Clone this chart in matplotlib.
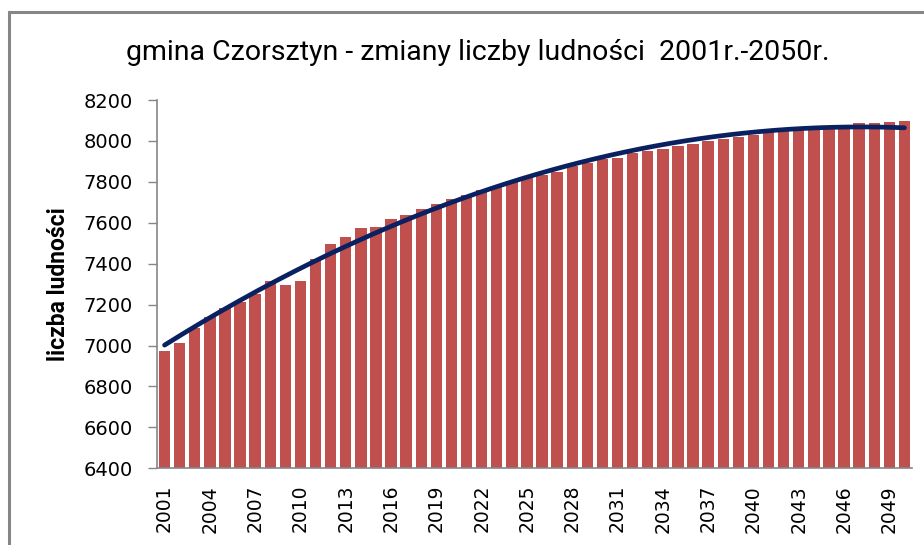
import numpy as np
import matplotlib
matplotlib.use("Agg")
import matplotlib.pyplot as plt
from matplotlib.patches import Rectangle

# Data
years = list(range(2001, 2051))
population = [
    6973, 7012, 7087, 7141, 7184, 7214, 7254, 7315, 7296, 7315,
    7421, 7496, 7530, 7574, 7579, 7618, 7638, 7667, 7692, 7716,
    7736, 7760, 7776, 7799, 7822, 7833, 7850, 7877, 7894, 7912,
    7917, 7939, 7951, 7961, 7977, 7987, 8001, 8011, 8021, 8031,
    8042, 8048, 8053, 8058, 8063, 8070, 8088, 8088, 8092, 8097,
]
tick_years = years[::3]

title = "gmina Czorsztyn - zmiany liczby ludności  2001r.-2050r."
ylabel = "liczba ludności"

BAR_COLOR = "#C0504D"
LINE_COLOR = "#0A2161"
GRAY = "#868686"
TITLE_FONT = ["Roboto", "DejaVu Sans"]

fig = plt.figure(figsize=(9.24, 5.45), dpi=100)
ax = fig.add_axes([157 / 924, 1 - 468.3 / 545, (912 - 157) / 924, 368.3 / 545])

x = np.arange(len(years))
ax.bar(x, population, width=0.76, color=BAR_COLOR, zorder=2)

# polynomial trendline (order 2) fitted to the bars, like the spreadsheet one
coef = np.polyfit(x, population, 2)
xs = np.linspace(x[0], x[-1], 200)
ax.plot(xs, np.polyval(coef, xs), color=LINE_COLOR, lw=3.4,
        solid_capstyle="round", zorder=3)

ax.set_xlim(-0.5, len(years) - 0.5)
ax.set_ylim(6400, 8200)
ax.set_yticks(np.arange(6400, 8201, 200))
ax.set_xticks([years.index(y) for y in tick_years])
ax.set_xticklabels([str(y) for y in tick_years], rotation=90)

for side in ["top", "right"]:
    ax.spines[side].set_visible(False)
for side in ["left", "bottom"]:
    ax.spines[side].set_color(GRAY)
    ax.spines[side].set_linewidth(1.2)

ax.tick_params(axis="y", direction="out", length=6.5, width=1, color=GRAY,
               pad=11, labelsize=14, labelcolor="black")
ax.tick_params(axis="x", length=0, pad=12, labelsize=13.5, labelcolor="black")

ax.set_ylabel(ylabel, family=TITLE_FONT, fontsize=16.5, fontweight="bold",
              labelpad=10)
fig.text(0.517, 1 - 52 / 545, title, family=TITLE_FONT, fontsize=20.5,
         ha="center", va="center")

# outer chart frame (cropped at right and bottom)
fig.patches.append(Rectangle((8.5 / 924, -0.1), 1.2, 1.1 - 12 / 545,
                             transform=fig.transFigure, fill=False,
                             edgecolor=GRAY, lw=2.2))

fig.savefig("out.png", dpi=100)
